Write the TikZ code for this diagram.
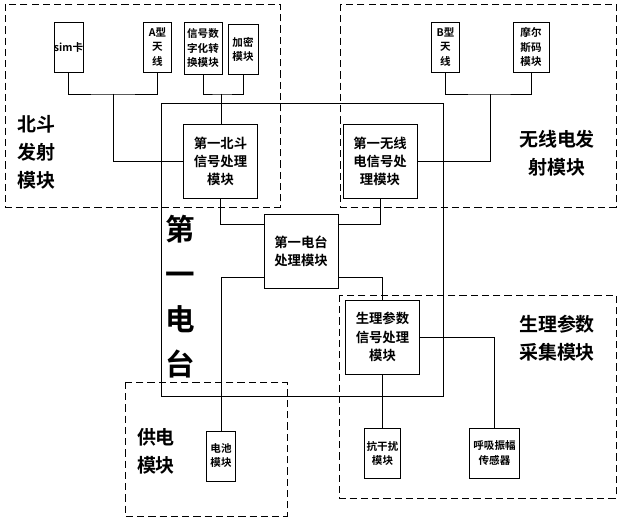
\documentclass[tikz,border=0pt]{standalone}
\usepackage{fontspec}
\usepackage{tikz}
\setmainfont{Noto Sans CJK SC}
\newfontfamily\cjk{Noto Sans CJK SC Bold}
\tikzset{
  modbox/.style={draw, line width=0.6pt, fill=white, inner sep=0pt, align=center, font=\cjk\fontsize{7.5}{10}\selectfont},
  procbox/.style={draw, line width=0.6pt, fill=white, inner sep=0pt, align=center, font=\cjk\fontsize{9.5}{13}\selectfont, minimum width=1.85cm, minimum height=1.85cm},
  zone/.style={draw, line width=0.6pt, dash pattern=on 5pt off 3pt},
  zonetext/.style={align=center, font=\cjk\fontsize{13.5}{20}\selectfont},
  wire/.style={line width=0.6pt}
}
\begin{document}
\begin{tikzpicture}[x=0.025cm, y=-0.025cm]
        % 边界
        \useasboundingbox (0,0) rectangle (621,518);

        % 虚线区域
        \draw[zone] (5,4) rectangle (280,207);
        \draw[zone] (340,4) rectangle (616,207);
        \draw[zone] (339,295) rectangle (616,498);
        \draw[zone] (125,382) rectangle (287,516);
        \draw[line width=0.6pt] (161,103) rectangle (443,396);

        % 区域名称
        \node[zonetext] (bdname) at (36,152) {北斗\\发射\\模块};
        \node[zonetext] (wxname) at (557,153) {无线电发\\射模块};
        \node[zonetext] (slname) at (557,338) {生理参数\\采集模块};
        \node[zonetext] (gdname) at (156,451) {供电\\模块};
        \node[align=center, font=\cjk\fontsize{21}{32}\selectfont] (dtname) at (180,297) {第\\一\\电\\台};

        % 小模块
        \node[modbox, minimum width=0.72cm, minimum height=1.25cm] (sim) at (68.5,47) {sim卡};
        \node[modbox, minimum width=0.72cm, minimum height=1.25cm] (antA) at (157.5,47) {A型\\天\\线};
        \node[modbox, minimum width=0.95cm, minimum height=1.3cm] (adc) at (203,48) {信号数\\字化转\\换模块};
        \node[modbox, minimum width=0.75cm, minimum height=1.25cm] (enc) at (243,49) {加密\\模块};
        \node[modbox, minimum width=0.72cm, minimum height=1.25cm] (antB) at (445.5,47) {B型\\天\\线};
        \node[modbox, minimum width=0.9cm, minimum height=1.25cm] (morse) at (531,47) {摩尔\\斯码\\模块};
        \node[modbox, minimum width=0.72cm, minimum height=1.25cm] (bat) at (221,456) {电池\\模块};
        \node[modbox, minimum width=0.88cm, minimum height=1.25cm] (anti) at (382.5,453) {抗干扰\\模块};
        \node[modbox, minimum width=1.27cm, minimum height=1.25cm] (resp) at (494.5,453) {呼吸振幅\\传感器};

        % 处理模块
        \node[procbox] (bdproc) at (220.5,161.5) {第一北斗\\信号处理\\模块};
        \node[procbox] (wxproc) at (380,161.5) {第一无线\\电信号处\\理模块};
        \node[procbox] (dtproc) at (301,251) {第一电台\\处理模块};
        \node[procbox] (slproc) at (382.5,337) {生理参数\\信号处理\\模块};

        % 连线
        \coordinate (j1) at (113,94);
        \coordinate (j2) at (221,94);
        \coordinate (j3) at (490,94);
        \draw[wire] (sim.south) |- (j1) -| (antA.south);
        \draw[wire] (j1) |- (bdproc.west);
        \draw[wire] (adc.south) |- (j2) -| (enc.south);
        \draw[wire] (j2) -- (bdproc.north -| j2);
        \draw[wire] (antB.south) |- (j3) -| (morse.south);
        \draw[wire] (j3) |- (wxproc.east);
        \draw[wire] (bdproc.south) |- ([yshift=-8]dtproc.north west);
        \draw[wire] (wxproc.south) |- ([yshift=-8]dtproc.north east);
        \draw[wire] ([yshift=8]dtproc.south west) -| (bat.north);
        \draw[wire] ([yshift=8]dtproc.south east) -| (slproc.north);
        \draw[wire] (slproc.south) -- (anti.north);
        \draw[wire] (slproc.east) -| (resp.north);
\end{tikzpicture}
\end{document}
